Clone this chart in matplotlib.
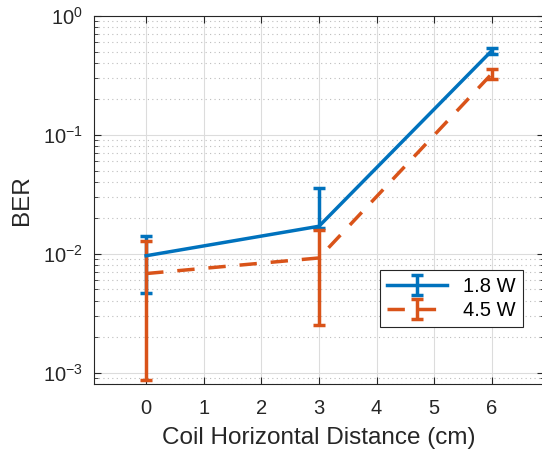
import numpy as np
import matplotlib
matplotlib.use("Agg")
import matplotlib.pyplot as plt
from matplotlib.ticker import LogLocator, NullFormatter

plt.rcParams["font.family"] = ["Liberation Sans", "DejaVu Sans"]
plt.rcParams["mathtext.fontset"] = "custom"
plt.rcParams["mathtext.rm"] = "Liberation Sans"
plt.rcParams["mathtext.it"] = "Liberation Sans"

# data
distance = [0, 3, 6]
ber_18 = [0.0096, 0.0170, 0.51]
ber_18_low = [0.0047, 0.0163, 0.48]
ber_18_high = [0.0142, 0.0356, 0.54]
ber_45 = [0.0068, 0.0092, 0.326]
ber_45_low = [0.00087, 0.0025, 0.296]
ber_45_high = [0.0127, 0.0159, 0.358]
labels = ["1.8 W", "4.5 W"]

blue = "#0072BD"
orange = "#D95319"
dark = "#262626"

fig = plt.figure(figsize=(5.42, 4.55), dpi=100)
ax = fig.add_axes([0.174, 0.156, 0.829, 0.809])

y1 = np.array(ber_18)
e1 = [y1 - np.array(ber_18_low), np.array(ber_18_high) - y1]
y2 = np.array(ber_45)
e2 = [y2 - np.array(ber_45_low), np.array(ber_45_high) - y2]

ax.errorbar(distance, y1, yerr=e1, color=blue, lw=2.5, capsize=4.5,
            capthick=2.5, label=labels[0])
eb = ax.errorbar(distance, y2, yerr=e2, color=orange, lw=2.5, capsize=4.5,
                 capthick=2.5, label=labels[1])
eb[0].set_dashes((5, 4))

ax.set_yscale("log")
ax.set_ylim(8e-4, 1)
ax.set_xlim(-0.9, 6.9)
ax.set_xticks(range(0, 7))
ax.yaxis.set_major_locator(LogLocator(base=10, numticks=10))
ax.yaxis.set_minor_locator(LogLocator(base=10, subs=np.arange(2, 10), numticks=10))
ax.yaxis.set_minor_formatter(NullFormatter())

ax.grid(True, which="major", color="#dcdcdc", lw=0.8)
ax.grid(True, which="minor", axis="y", color="#bdbdbd", lw=0.8, ls=(0, (1, 3)))
ax.set_axisbelow(True)

ax.tick_params(which="both", direction="in", top=True, right=True,
               colors=dark, labelsize=14.5)
ax.tick_params(which="major", length=5)
ax.tick_params(which="minor", length=3)
ax.tick_params(axis="x", pad=11)
ax.tick_params(axis="y", pad=8)
for s in ax.spines.values():
    s.set_color(dark)
    s.set_linewidth(0.8)

ax.set_xlabel("Coil Horizontal Distance (cm)", fontsize=17.5, color=dark, labelpad=6)
ax.set_ylabel("BER", fontsize=17.5, color=dark, labelpad=7)

leg = ax.legend(loc="lower right", bbox_to_anchor=(0.954, 0.155), fontsize=14.5,
                fancybox=False, framealpha=1, edgecolor=dark, borderaxespad=0,
                handlelength=3.0, borderpad=0.35, labelspacing=0.25)
leg.get_frame().set_linewidth(0.8)

plt.savefig("out.png", dpi=100)
plt.close()
